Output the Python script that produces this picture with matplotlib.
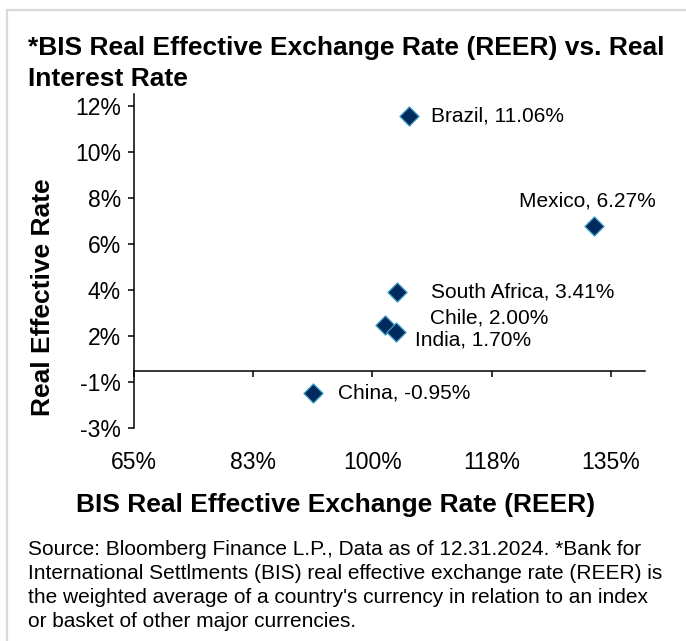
import numpy as np
import matplotlib.pyplot as plt
from matplotlib.patches import Rectangle

plt.rcParams['font.family'] = ['Liberation Sans', 'DejaVu Sans']

# --- data ---
countries = ['Brazil', 'Mexico', 'South Africa', 'Chile', 'India', 'China']
reer = [105.3, 132.5, 103.6, 101.9, 103.5, 91.3]          # BIS REER (%)
real_rate = [11.06, 6.27, 3.41, 2.00, 1.70, -0.95]        # real interest rate (%)

x_ticks = [65, 82.5, 100, 117.5, 135]
x_tick_labels = ['65%', '83%', '100%', '118%', '135%']
y_ticks = [-2.5, -0.5, 1.5, 3.5, 5.5, 7.5, 9.5, 11.5]
y_tick_labels = ['-3%', '-1%', '2%', '4%', '6%', '8%', '10%', '12%']

# label offsets (pixels, y up) and alignment per point
label_offsets = [(22, 0), (-7, 25), (34, 0), (45, 7), (19, -8), (25, 0)]
label_ha = ['left', 'center', 'left', 'left', 'left', 'left']

W, H = 686, 641
fig = plt.figure(figsize=(W / 100, H / 100), dpi=100)

# light grey frame around the chart
fig.patches.append(Rectangle((7 / W, -0.05), 1.1, 1 - 10 / H + 0.05, transform=fig.transFigure,
                             fill=False, ec='#d9d9d9', lw=1.6, zorder=0))

ax = fig.add_axes([134 / W, 1 - 428.3 / H, (645 - 134) / W, (428.3 - 94.2) / H])
ax.set_xlim(65, 140)
ax.set_ylim(-2.5, 12.0)

ax.scatter(reer, real_rate, marker='D', s=95, c='#002b5c', edgecolors='#3f9fc4',
           linewidths=0.9, zorder=3, clip_on=False)

for name, x, y, off, ha in zip(countries, reer, real_rate, label_offsets, label_ha):
    ax.annotate(f'{name}, {y:.2f}%', xy=(x, y), xytext=off, textcoords='offset pixels',
                ha=ha, va='center', fontsize=15)

# axes styling: y axis on the left, x axis line crossing at 0
for s in ['top', 'right']:
    ax.spines[s].set_visible(False)
ax.spines['left'].set_linewidth(1.1)
ax.spines['bottom'].set_position(('data', 0))
ax.spines['bottom'].set_linewidth(1.1)

ax.set_yticks(y_ticks, labels=y_tick_labels)
ax.tick_params(axis='y', direction='out', length=4.5, width=1.1, pad=5, labelsize=16.5)
ax.set_xticks(x_ticks)
ax.tick_params(axis='x', direction='out', length=4.5, width=1.1, labelbottom=False)

# x tick labels sit at the bottom of the plot area
sec = ax.secondary_xaxis(0)
sec.set_xticks(x_ticks, labels=x_tick_labels)
sec.tick_params(length=0, pad=16, labelsize=16.5)
sec.spines['bottom'].set_visible(False)

# titles
fig.text(28 / W, 1 - 55 / H, '*BIS Real Effective Exchange Rate (REER) vs. Real',
         fontsize=19, fontweight='bold', va='baseline')
fig.text(28 / W, 1 - 86 / H, 'Interest Rate', fontsize=19, fontweight='bold', va='baseline')
fig.text(336 / W, 1 - 512 / H, 'BIS Real Effective Exchange Rate (REER)',
         fontsize=19, fontweight='bold', ha='center', va='baseline')
fig.text(43 / W, 1 - 297 / H, 'Real Effective Rate', fontsize=19, fontweight='bold',
         rotation=90, ha='center', va='center')

# footnote
notes = ["Source: Bloomberg Finance L.P., Data as of 12.31.2024. *Bank for",
         "International Settlments (BIS) real effective exchange rate (REER) is",
         "the weighted average of a country's currency in relation to an index",
         "or basket of other major currencies."]
for i, line in enumerate(notes):
    fig.text(28 / W, 1 - (555 + 23.9 * i) / H, line, fontsize=15, va='baseline')

plt.savefig('out.png', dpi=100)
